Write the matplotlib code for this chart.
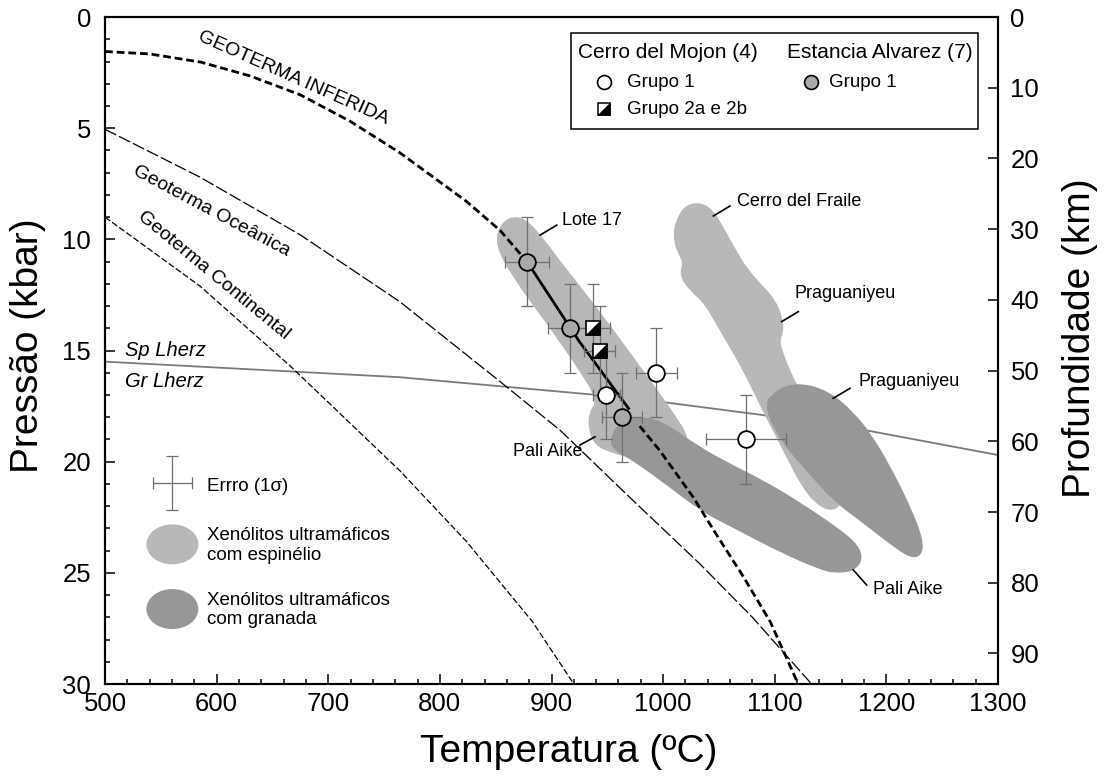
import numpy as np
import matplotlib
matplotlib.use("Agg")
import matplotlib.pyplot as plt
from matplotlib.patches import Ellipse, Rectangle, PathPatch
from matplotlib.path import Path
from matplotlib.ticker import MultipleLocator

plt.rcParams['font.family'] = ['Liberation Sans', 'DejaVu Sans']

# depth conversion for the right-hand axis
KM_PER_KBAR = 3.144

# ---- geotherms (temperature in degC, pressure in kbar) ----
inferred_upper_T = [500, 540, 586, 630, 675, 720, 764, 794, 824, 854, 878]
inferred_upper_P = [1.55, 1.66, 2.03, 2.65, 3.5, 4.7, 6.1, 7.2, 8.3, 9.6, 11.0]
inferred_solid_T = [878, 925, 969]
inferred_solid_P = [11.0, 14.6, 17.6]
inferred_lower_T = [979, 997, 1027, 1048, 1071, 1096, 1121]
inferred_lower_P = [18.4, 19.5, 21.6, 23.3, 25.1, 27.2, 30.0]

oceanic_T = [500, 585, 675, 764, 854, 908, 970, 1033, 1080, 1133]
oceanic_P = [5.05, 7.2, 9.8, 12.8, 16.4, 18.6, 21.6, 24.6, 27.0, 30.0]

continental_T = [500, 585, 666, 764, 824, 883, 920]
continental_P = [9.0, 12.1, 15.7, 20.4, 23.6, 27.2, 30.0]

lherz_T = [500, 764, 941, 997, 1089, 1183, 1300]
lherz_P = [15.5, 16.2, 17.0, 17.3, 17.9, 18.6, 19.7]

# ---- thermobarometric results ----
alvarez_T = [878, 917, 963]
alvarez_P = [11.0, 14.0, 18.0]
alvarez_Terr = [20, 20, 18]
alvarez_Perr = [2, 2, 2]

mojon1_T = [949, 994, 1074]
mojon1_P = [17.0, 16.0, 19.0]
mojon1_Terr = [12, 18, 36]
mojon1_Perr = [2, 2, 2]

mojon2_T = [937, 943]
mojon2_P = [14.0, 15.0]
mojon2_Terr = [15, 14]
mojon2_Perr = [2, 2]

# ---- xenolith fields (T, P outlines) ----
lote17_spinel = [(853.9, 9.40), (862.8, 9.02), (874.5, 9.05), (887.0, 9.63), (903.1, 10.71),
                 (925.5, 12.14), (955.1, 14.08), (985.6, 16.19), (1008.9, 17.81), (1024.1, 19.03),
                 (1015.2, 19.70), (979.3, 19.93), (952.4, 19.55), (938.8, 19.22), (933.4, 18.49),
                 (934.3, 17.77), (941.7, 17.23), (925.5, 15.88), (896.0, 13.76), (865.5, 11.69),
                 (850.1, 10.25)]

fraile_spinel = [(1011.5, 9.22), (1019.6, 8.49), (1033.0, 8.36), (1043.8, 8.67), (1052.7, 9.40),
                 (1062.6, 10.30), (1074.2, 11.29), (1086.8, 12.01), (1100.2, 12.73), (1106.5, 13.54),
                 (1107.4, 14.17), (1103.8, 14.53), (1106.5, 15.07), (1113.7, 15.97), (1122.6, 16.87),
                 (1136.1, 18.58), (1149.5, 20.37), (1159.5, 21.50), (1157.7, 22.05), (1147.7, 22.18),
                 (1136.1, 21.81), (1125.3, 21.14), (1113.7, 20.06), (1102.0, 18.89), (1089.5, 17.68),
                 (1075.1, 16.19), (1064.4, 15.20), (1052.7, 14.21), (1037.5, 12.86), (1024.1, 12.28),
                 (1015.0, 11.60), (1018.7, 11.02), (1012.3, 10.48), (1009.6, 9.81)]

pali_garnet = [(953.0, 19.03), (958.6, 18.35), (974.8, 18.00), (997.2, 18.12), (1033.0, 19.39),
               (1062.6, 20.19), (1093.0, 20.96), (1122.6, 21.86), (1158.5, 23.07), (1174.7, 23.79),
               (1178.3, 24.42), (1170.3, 24.90), (1154.0, 24.99), (1140.5, 24.82), (1107.4, 24.11),
               (1062.6, 22.94), (1033.0, 22.17), (997.2, 20.78), (967.6, 19.75), (955.9, 19.45)]

pragua_garnet = [(1095.7, 17.08), (1110.7, 16.55), (1131.5, 16.55), (1152.4, 17.00), (1170.4, 17.82),
                 (1185.3, 18.72), (1203.2, 20.23), (1221.1, 22.03), (1232.6, 23.52), (1231.1, 24.22),
                 (1221.1, 24.30), (1203.2, 23.67), (1176.3, 22.62), (1152.4, 21.72), (1128.6, 20.38),
                 (1107.6, 19.17), (1094.7, 17.98), (1093.2, 17.38)]

x_ticks = [500, 600, 700, 800, 900, 1000, 1100, 1200, 1300]
p_ticks = [0, 5, 10, 15, 20, 25, 30]
km_ticks = [0, 10, 20, 30, 40, 50, 60, 70, 80, 90]

LIGHT = '#b7b7b7'
DARK = '#979797'
GRAYDOT = '#a9a9a9'
ERR = '#6f6f6f'


def field_patch(outline, color):
    """Closed outline drawn as a smooth quadratic Bezier through edge midpoints."""
    pts = np.asarray(outline, dtype=float)
    mids = (pts + np.roll(pts, -1, axis=0)) / 2.0
    verts = [mids[-1]]
    codes = [Path.MOVETO]
    for i in range(len(pts)):
        verts += [pts[i], mids[i]]
        codes += [Path.CURVE3, Path.CURVE3]
    verts.append(mids[-1])
    codes.append(Path.CLOSEPOLY)
    return PathPatch(Path(verts, codes), facecolor=color, edgecolor=color, lw=1.0, zorder=2)


fig = plt.figure(figsize=(11.08, 7.78), dpi=100)
ax = fig.add_axes([0.0948, 0.1208, 0.8059, 0.8573])

# fields
for outline, col in [(lote17_spinel, LIGHT), (fraile_spinel, LIGHT),
                     (pali_garnet, DARK), (pragua_garnet, DARK)]:
    ax.add_patch(field_patch(outline, col))

# spinel / garnet lherzolite transition
ax.plot(lherz_T, lherz_P, color='#7a7a7a', lw=1.3, zorder=1)

# geotherms
ax.plot(oceanic_T, oceanic_P, color='black', lw=0.9, ls=(0, (10, 2.5)), zorder=3)
ax.plot(continental_T, continental_P, color='black', lw=0.9, ls=(0, (5, 2)), zorder=3)
ax.plot(inferred_upper_T, inferred_upper_P, color='black', lw=2.0, ls=(0, (2.8, 1.4)), zorder=3)
ax.plot(inferred_solid_T, inferred_solid_P, color='black', lw=2.0, zorder=3)
ax.plot(inferred_lower_T, inferred_lower_P, color='black', lw=2.0, ls=(0, (2.8, 1.4)), zorder=3)

# error bars
eb = dict(fmt='none', ecolor=ERR, elinewidth=0.9, capsize=4.5, capthick=0.9, zorder=4)
ax.errorbar(alvarez_T, alvarez_P, xerr=alvarez_Terr, yerr=alvarez_Perr, **eb)
ax.errorbar(mojon1_T, mojon1_P, xerr=mojon1_Terr, yerr=mojon1_Perr, **eb)
ax.errorbar(mojon2_T, mojon2_P, xerr=mojon2_Terr, yerr=mojon2_Perr, **eb)

# symbols
half_tri = [(-1, -1), (1, -1), (1, 1)]
ax.plot(alvarez_T, alvarez_P, 'o', ms=12, mfc=GRAYDOT, mec='black', mew=1.3, ls='none', zorder=5)
ax.plot(mojon1_T, mojon1_P, 'o', ms=12, mfc='white', mec='black', mew=1.3, ls='none', zorder=5)
ax.plot(mojon2_T, mojon2_P, 's', ms=10, mfc='white', mec='black', mew=1.2, ls='none', zorder=5)
ax.plot(mojon2_T, mojon2_P, marker=half_tri, ms=10, mfc='black', mec='black', mew=1.2,
        ls='none', zorder=6)

# geotherm labels
ax.text(669, 2.72, 'GEOTERMA INFERIDA', rotation=-24, fontsize=14,
        ha='center', va='center', rotation_mode='anchor')
ax.text(595.4, 8.72, 'Geoterma Oceânica', rotation=-28, fontsize=14,
        ha='center', va='center', rotation_mode='anchor')
ax.text(597, 11.6, 'Geoterma Continental', rotation=-39.5, fontsize=14,
        ha='center', va='center', rotation_mode='anchor')
ax.text(518, 14.98, 'Sp Lherz', fontsize=14.5, style='italic', ha='left', va='center')
ax.text(518, 16.4, 'Gr Lherz', fontsize=14.5, style='italic', ha='left', va='center')

# locality labels with leaders
labels = [
    ('Lote 17', (909.1, 9.13), (889.7, 9.81), (904.7, 9.36)),
    ('Cerro del Fraile', (1065.9, 8.31), (1045.0, 8.95), (1059.9, 8.5)),
    ('Praguaniyeu', (1118.1, 12.43), (1106.2, 13.7), (1121.1, 13.25)),
    ('Praguaniyeu', (1174.8, 16.4), (1152.4, 17.15), (1167.4, 16.7)),
    ('Pali Aike', (1188.3, 25.77), (1170.4, 24.87), (1182.4, 25.55)),
    ('Pali Aike', (865.8, 19.55), (939.0, 18.88), (925.5, 19.25)),
]
for txt, pos, a, b in labels:
    ax.plot([a[0], b[0]], [a[1], b[1]], color='black', lw=1.2, zorder=6)
    ax.text(pos[0], pos[1], txt, fontsize=13, ha='left', va='center', zorder=7)

# key: symbols (upper right)
ax.add_patch(Rectangle((0.5218, 0.8321), 0.4558, 0.1435, transform=ax.transAxes,
                       facecolor='white', edgecolor='black', lw=1.1, zorder=8))
ax.text(0.5293, 0.947, 'Cerro del Mojon (4)', transform=ax.transAxes, fontsize=15,
        ha='left', va='center', zorder=9)
ax.text(0.7634, 0.947, 'Estancia Alvarez (7)', transform=ax.transAxes, fontsize=15,
        ha='left', va='center', zorder=9)
ax.plot([0.5588], [0.9021], 'o', ms=10, mfc='white', mec='black', mew=1.2,
        transform=ax.transAxes, zorder=9)
ax.text(0.5845, 0.9021, 'Grupo 1', transform=ax.transAxes, fontsize=13.5,
        ha='left', va='center', zorder=9)
ax.plot([0.5583], [0.8616], 's', ms=9, mfc='white', mec='black', mew=1.1,
        transform=ax.transAxes, zorder=9)
ax.plot([0.5583], [0.8616], marker=half_tri, ms=9, mfc='black', mec='black', mew=1.1,
        transform=ax.transAxes, zorder=10)
ax.text(0.5845, 0.8616, 'Grupo 2a e 2b', transform=ax.transAxes, fontsize=13.5,
        ha='left', va='center', zorder=9)
ax.plot([0.7906], [0.9021], 'o', ms=10, mfc=GRAYDOT, mec='black', mew=1.2,
        transform=ax.transAxes, zorder=9)
ax.text(0.8108, 0.9021, 'Grupo 1', transform=ax.transAxes, fontsize=13.5,
        ha='left', va='center', zorder=9)

# key: error and fields (lower left)
ax.errorbar([560.3], [20.97], xerr=[17.2], yerr=[1.21], **eb)
ax.text(0.1139, 0.2958, 'Errro (1σ)', transform=ax.transAxes, fontsize=13.5,
        ha='left', va='center')
ax.add_patch(Ellipse((0.0754, 0.2094), 0.0582, 0.06, transform=ax.transAxes,
                     facecolor=LIGHT, edgecolor='none'))
ax.add_patch(Ellipse((0.0754, 0.1124), 0.0582, 0.06, transform=ax.transAxes,
                     facecolor=DARK, edgecolor='none'))
ax.text(0.1142, 0.2076, 'Xenólitos ultramáficos\ncom espinélio', transform=ax.transAxes,
        fontsize=13.5, ha='left', va='center', linespacing=1.2)
ax.text(0.1142, 0.111, 'Xenólitos ultramáficos\ncom granada', transform=ax.transAxes,
        fontsize=13.5, ha='left', va='center', linespacing=1.2)

# axes
ax.set_xlim(500, 1300)
ax.set_ylim(30, 0)
ax.set_xticks(x_ticks)
ax.set_yticks(p_ticks)
ax.xaxis.set_minor_locator(MultipleLocator(20))
ax.yaxis.set_minor_locator(MultipleLocator(1))
ax.tick_params(which='both', direction='in', width=1.1, labelsize=18.5)
ax.tick_params(which='major', length=7)
ax.tick_params(which='minor', length=3.5)
ax.tick_params(axis='y', pad=10)
ax.tick_params(axis='x', pad=6)
for s in ax.spines.values():
    s.set_linewidth(1.5)

ax2 = ax.twinx()
ax2.set_ylim(30 * KM_PER_KBAR, 0)
ax2.set_yticks(km_ticks)
ax2.tick_params(direction='in', length=7, width=1.1, labelsize=18.5, pad=9)
for s in ax2.spines.values():
    s.set_linewidth(1.5)

ax.text(-0.086, 0.508, 'Pressão (kbar)', transform=ax.transAxes, rotation=90,
        fontsize=28, ha='center', va='center')
ax.text(0.519, -0.102, 'Temperatura (ºC)', transform=ax.transAxes,
        fontsize=28, ha='center', va='center')
ax.text(1.092, 0.518, 'Profundidade (km)', transform=ax.transAxes, rotation=90,
        fontsize=28, ha='center', va='center')

fig.savefig('out.png', dpi=100)
